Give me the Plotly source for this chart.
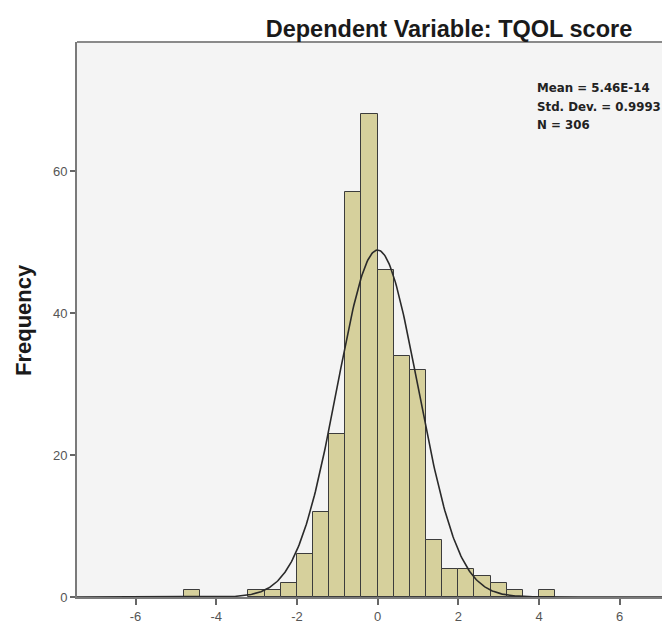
import numpy as np
import plotly.graph_objects as go

# Histogram data (bin left edges, width 0.4)
bin_starts = [-4.8, -3.2, -2.8, -2.4, -2.0, -1.6, -1.2, -0.8, -0.4, 0.0,
              0.4, 0.8, 1.2, 1.6, 2.0, 2.4, 2.8, 3.2, 4.0]
counts = [1, 1, 1, 2, 6, 12, 23, 57, 68, 46, 34, 32, 8, 4, 4, 3, 2, 1, 1]
bin_width = 0.4

mean_val = 5.46e-14
std_val = 0.9993
n_val = 306

x_ticks = [-6, -4, -2, 0, 2, 4, 6]
y_ticks = [0, 20, 40, 60]

title_text = "Dependent Variable: TQOL score"
stats_lines = ["Mean = 5.46E-14", "Std. Dev. = 0.9993", "N = 306"]

centers = [s + bin_width / 2 for s in bin_starts]

xs = np.linspace(-7.5, 7.5, 600)
ys = n_val * bin_width * np.exp(-0.5 * ((xs - mean_val) / std_val) ** 2) / (std_val * np.sqrt(2 * np.pi))

fig = go.Figure()
fig.add_trace(go.Bar(
    x=centers, y=counts, width=bin_width,
    marker=dict(color="#d6d09c", line=dict(color="#3c3c3c", width=1)),
    hoverinfo="x+y", showlegend=False,
))
fig.add_trace(go.Scatter(
    x=xs, y=ys, mode="lines",
    line=dict(color="#2a2a2a", width=1.6),
    showlegend=False, hoverinfo="skip",
))

# page has an 8px body margin: figure starts at (8, 8) in the window
OFF = 8
W, H = 670 - OFF, 626 - OFF
L = 77 - OFF
T = 42 - OFF
R = 0
B = 626 - 597
pw = W - L - R
ph = H - T - B

fig.update_layout(
    width=W, height=H,
    margin=dict(l=L, r=R, t=T, b=B, pad=0),
    paper_bgcolor="white",
    plot_bgcolor="#f4f4f4",
    bargap=0,
    font=dict(family="Liberation Sans, Arial, sans-serif"),
    title=dict(
        text="<b>" + title_text + "</b>",
        x=(449 - OFF) / W, xanchor="center",
        y=1 - (29 - OFF) / H, yanchor="middle",
        font=dict(size=23.5, color="#1a1a1a"),
    ),
    xaxis=dict(
        range=[-7.45, -7.45 + pw / 40.35],
        tickvals=x_ticks, ticktext=[str(v) for v in x_ticks],
        ticks="outside", ticklen=6, tickcolor="#666", tickwidth=1.5,
        tickfont=dict(size=13, color="#555"),
        showgrid=False, zeroline=False,
        showline=True, linecolor="#7a7a7a", linewidth=2,
    ),
    yaxis=dict(
        range=[0, ph / 7.1],
        tickvals=y_ticks, ticktext=[str(v) for v in y_ticks],
        ticks="outside", ticklen=5, tickcolor="#666", tickwidth=1.5,
        tickfont=dict(size=13, color="#555"),
        showgrid=False, zeroline=False,
        showline=True, linecolor="#7a7a7a", linewidth=2,
    ),
)

# top frame line
fig.add_shape(type="line", xref="paper", yref="paper", x0=0, x1=1, y0=1, y1=1,
              line=dict(color="#8a8a8a", width=2))

# y-axis title
fig.add_annotation(
    text="<b>Frequency</b>", xref="paper", yref="paper",
    x=(23 - 77) / pw, y=(597 - 320) / ph, textangle=-90,
    showarrow=False, font=dict(size=22, color="#1a1a1a"),
    xanchor="center", yanchor="middle",
)

# stats annotations
for i, line in enumerate(stats_lines):
    ypix = 88 + i * 18.5
    fig.add_annotation(
        text="<b>" + line + "</b>", xref="paper", yref="paper",
        x=(535 - 77) / pw, y=(597 - ypix) / ph,
        showarrow=False, xanchor="left", yanchor="middle",
        font=dict(size=11.8, color="#222", family="DejaVu Sans"),
    )

fig.write_html("out.html")
